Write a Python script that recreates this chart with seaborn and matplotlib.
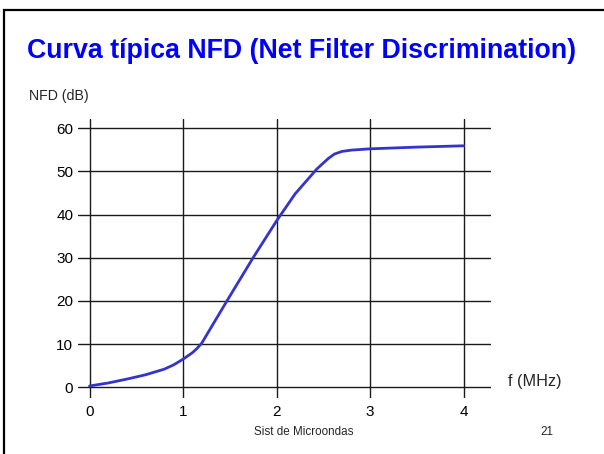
import matplotlib
matplotlib.use("Agg")
import matplotlib.pyplot as plt
from matplotlib.patches import Rectangle
import seaborn as sns
import pandas as pd

freq_mhz = [0.0, 0.2, 0.4, 0.6, 0.8, 0.9, 1.0, 1.1, 1.15, 1.2, 1.47, 1.75, 2.0, 2.2, 2.43, 2.55, 2.62, 2.7, 2.8, 3.0, 3.5, 4.0]
nfd_db = [0.3, 1.0, 1.9, 2.9, 4.2, 5.2, 6.5, 8.0, 9.0, 10.2, 20.0, 30.0, 38.5, 44.8, 50.5, 52.9, 54.0, 54.6, 54.9, 55.2, 55.6, 55.9]
x_ticks = [0, 1, 2, 3, 4]
y_ticks = [0, 10, 20, 30, 40, 50, 60]
title = "Curva típica NFD (Net Filter Discrimination)"
y_label = "NFD (dB)"
x_label = "f (MHz)"
footer = "Sist de Microondas"
page = "21"

sns.set_style("white")
plt.rcParams['font.family'] = ['Liberation Sans', 'DejaVu Sans']

W, H = 604, 454
fig = plt.figure(figsize=(W / 100, H / 100), dpi=100)
fig.patch.set_facecolor("white")

# slide frame
fig.patches.append(Rectangle((4 / W, -0.1), 1.2, (H - 10) / H + 0.1, transform=fig.transFigure,
                             fill=False, edgecolor="black", linewidth=1.6))

def px(x, y):
    return x / W, 1 - y / H

ax = fig.add_axes([78 / W, (H - 398) / H, 413 / W, 279 / H])
df = pd.DataFrame({"f": freq_mhz, "nfd": nfd_db})
sns.lineplot(data=df, x="f", y="nfd", ax=ax, color="#3434cc", linewidth=2.0, zorder=5)

x0 = 89.5
sx = 93.5
ax.set_xlim((78 - x0) / sx, (491 - x0) / sx)
y0 = 387.3
sy = 4.32
ax.set_ylim((y0 - 398) / sy, (y0 - 119) / sy)
ax.set_xticks(x_ticks)
ax.set_yticks(y_ticks)
ax.grid(True, color="#1a1a1a", linewidth=1.0)
for s in ax.spines.values():
    s.set_visible(False)
ax.tick_params(axis="both", length=0, labelsize=11, colors="black")
ax.tick_params(axis="y", pad=3.4)
ax.tick_params(axis="x", pad=5)
ax.set_xlabel("")
ax.set_ylabel("")

fig.text(*px(27, 58), title, color="#0000ff", fontsize=19.3, fontweight="bold", ha="left", va="baseline")
fig.text(*px(29, 96), y_label, fontsize=10.2, ha="left", va="center")
fig.text(*px(508, 381.5), x_label, fontsize=11.7, ha="left", va="center")
fig.text(*px(303.5, 431.7), footer, fontsize=8.4, ha="center", va="center")
fig.text(*px(546.7, 431.7), page, fontsize=8.4, ha="center", va="center")

fig.savefig("out.png", dpi=100, facecolor="white")
